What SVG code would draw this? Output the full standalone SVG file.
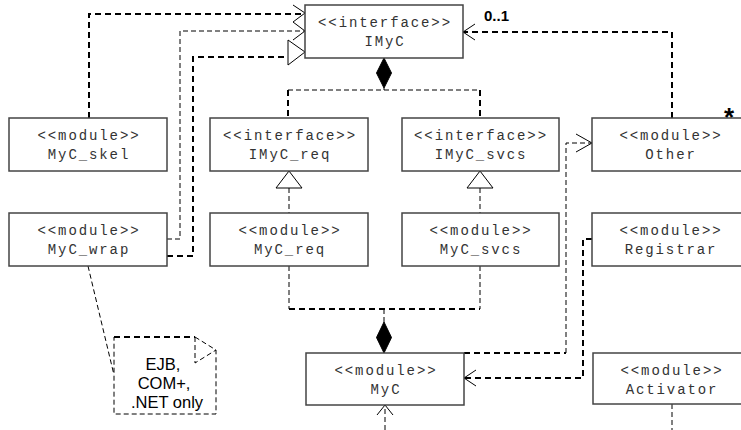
<svg xmlns="http://www.w3.org/2000/svg" width="741" height="430" viewBox="0 0 741 430">
<style>
.box{fill:#fff;stroke:#444;stroke-width:1.5}
.t{font-family:"Liberation Mono","Courier New",monospace;font-size:14px;letter-spacing:1.9px;fill:#333;text-anchor:middle}
.thick{fill:none;stroke:#000;stroke-width:2;stroke-dasharray:6,4}
.thin{fill:none;stroke:#000;stroke-width:1;stroke-dasharray:5,3}
.head{fill:none;stroke:#000;stroke-width:1}
.tri{fill:#fff;stroke:#000;stroke-width:1}
.dia{fill:#000;stroke:#000;stroke-width:1}
.lbl{font-family:"Liberation Sans",Arial,sans-serif;font-weight:bold;fill:#000}
.note{font-family:"Liberation Sans",Arial,sans-serif;font-size:16.5px;fill:#000;text-anchor:middle}
</style>
<g id="connectors">
<path class="thick" d="M89,118 V14 H305"/>
<path class="head" d="M293,5 L305,13 L293,22"/>
<path class="thin" d="M167,239 H180 V31 H305"/>
<path class="head" d="M293,22 L305,31 L293,40"/>
<path class="thick" d="M167,256 H193 V57 H288"/>
<path class="tri" d="M288,40 L305,52 L288,65 Z"/>
<path class="thick" d="M672,118 V32 H463"/>
<path class="head" d="M475,24 L463,32 L475,40"/>
<path class="dia" d="M384,58 L391.5,73 L384,88 L376.5,73 Z"/>
<path class="thin" d="M384,88 V90 M288,90 H480"/>
<path class="thick" d="M288,90 V118 M480,90 V118"/>
<path class="thin" d="M289,188 V213"/>
<path class="tri" d="M289,171 L302,188 L276,188 Z"/>
<path class="thin" d="M480,188 V213"/>
<path class="tri" d="M480,171 L493,188 L467,188 Z"/>
<path class="thin" d="M289,266 V309 M480,266 V309 M384,309 V322"/>
<path class="thick" d="M289,309 H480"/>
<path class="dia" d="M384,322 L391.5,337.5 L384,353 L376.5,337.5 Z"/>
<path class="thick" d="M464,353 H566"/>
<path class="thin" d="M566,353 V143 H592"/>
<path class="head" d="M576,134 L592,143 L576,152"/>
<path class="thick" d="M592,239 H583 V378 H464"/>
<path class="head" d="M476,370 L464,378 L476,386"/>
<path class="thin" d="M385,430 V405"/>
<path class="head" d="M377,415 L385,405 L393,415"/>
<path class="thin" d="M672,404 V430"/>
<path class="thin" d="M88,266 L114,375"/>
</g>
<g id="IMyC">
<rect class="box" x="305" y="5" width="158" height="53"/>
<text class="t" x="385" y="27">&lt;&lt;interface&gt;&gt;</text>
<text class="t" x="385" y="46">IMyC</text>
</g>
<g id="MyC_skel">
<rect class="box" x="9" y="118" width="158" height="53"/>
<text class="t" x="89" y="140">&lt;&lt;module&gt;&gt;</text>
<text class="t" x="89" y="159">MyC_skel</text>
</g>
<g id="IMyC_req">
<rect class="box" x="210" y="118" width="158" height="53"/>
<text class="t" x="290" y="140">&lt;&lt;interface&gt;&gt;</text>
<text class="t" x="290" y="159">IMyC_req</text>
</g>
<g id="IMyC_svcs">
<rect class="box" x="402" y="118" width="157" height="53"/>
<text class="t" x="481" y="140">&lt;&lt;interface&gt;&gt;</text>
<text class="t" x="481" y="159">IMyC_svcs</text>
</g>
<g id="Other">
<rect class="box" x="592" y="118" width="158" height="53"/>
<text class="t" x="671" y="140">&lt;&lt;module&gt;&gt;</text>
<text class="t" x="671" y="159">Other</text>
</g>
<g id="MyC_wrap">
<rect class="box" x="9" y="213" width="158" height="53"/>
<text class="t" x="89" y="235">&lt;&lt;module&gt;&gt;</text>
<text class="t" x="89" y="254">MyC_wrap</text>
</g>
<g id="MyC_req">
<rect class="box" x="210" y="213" width="158" height="53"/>
<text class="t" x="290" y="235">&lt;&lt;module&gt;&gt;</text>
<text class="t" x="290" y="254">MyC_req</text>
</g>
<g id="MyC_svcs">
<rect class="box" x="402" y="213" width="157" height="53"/>
<text class="t" x="481" y="235">&lt;&lt;module&gt;&gt;</text>
<text class="t" x="481" y="254">MyC_svcs</text>
</g>
<g id="Registrar">
<rect class="box" x="592" y="213" width="158" height="53"/>
<text class="t" x="671" y="235">&lt;&lt;module&gt;&gt;</text>
<text class="t" x="671" y="254">Registrar</text>
</g>
<g id="MyC">
<rect class="box" x="306" y="353" width="158" height="52"/>
<text class="t" x="386" y="375">&lt;&lt;module&gt;&gt;</text>
<text class="t" x="386" y="394">MyC</text>
</g>
<g id="Activator">
<rect class="box" x="593" y="353" width="158" height="51"/>
<text class="t" x="672" y="375">&lt;&lt;module&gt;&gt;</text>
<text class="t" x="672" y="394">Activator</text>
</g>
<g id="note">
<path class="thick" d="M114,337 H195"/>
<path class="thin" d="M195,337 L216,350 V414 H114 V337 M195,337 V363 L216,350"/>
<text class="note" x="163" y="370">EJB,</text>
<text class="note" x="164" y="389">COM+,</text>
<text class="note" x="167" y="408">.NET only</text>
</g>
<g id="labels">
<text class="lbl" x="484" y="21" font-size="15">0..1</text>
<text class="lbl" x="724" y="126" font-size="26">*</text>
</g>
</svg>
